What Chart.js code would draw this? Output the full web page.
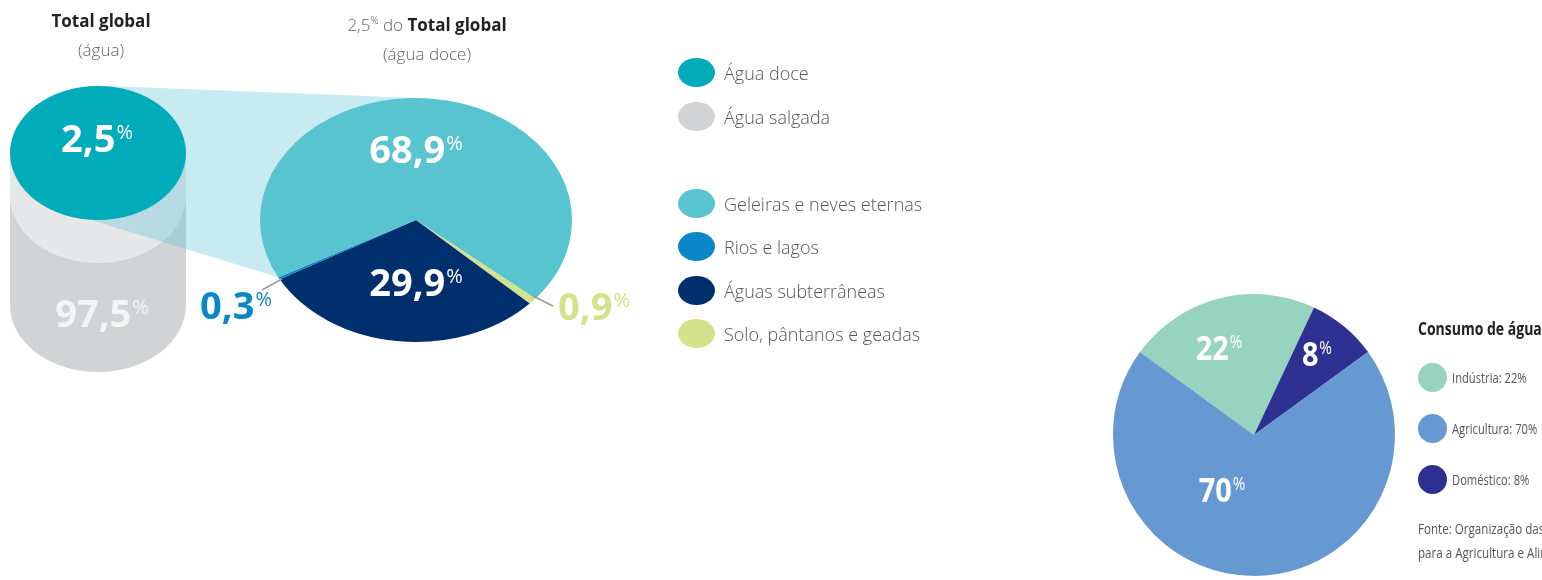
<!DOCTYPE html>
<html lang="pt">
<head>
<meta charset="utf-8">
<script src="https://cdn.jsdelivr.net/npm/chart.js@4.4.0/dist/chart.umd.min.js"></script>
<style>
  html, body { margin: 0; padding: 0; background: #fff; }
  body { width: 1542px; height: 580px; position: relative; overflow: hidden; font-family: "Open Sans", sans-serif; color: #555; }
  canvas { position: absolute; left: 0; top: 0; }
  .title { position: absolute; width: 260px; text-align: center; font-size: 17px; line-height: 29px; color: #666; font-weight: 300; }
  .title b { color: #222; font-weight: 700; }
  .title sup { font-size: 10px; }
  .legend { position: absolute; left: 678px; top: 0; }
  .legend .row { position: absolute; left: 0; display: flex; align-items: center; white-space: nowrap; font-size: 18px; font-weight: 300; color: #555; }
  .legend .sw { width: 37px; height: 29px; border-radius: 50%; margin-right: 9px; }
  .uso { position: absolute; left: 1418px; top: 0; }
  .uso .head { position: absolute; top: 316px; left: 0; white-space: nowrap; font-weight: 700; font-size: 17.5px; color: #222; transform: scaleX(0.8); transform-origin: 0 50%; }
  .uso .row { position: absolute; left: 0; display: flex; align-items: center; white-space: nowrap; }
  .uso .dot { width: 29px; height: 29px; border-radius: 50%; margin-right: 5px; }
  .uso .row span { font-size: 14px; color: #555; display: inline-block; transform: scaleX(0.8); transform-origin: 0 50%; }
  .uso .src { position: absolute; left: 0; top: 517px; white-space: nowrap; font-size: 14.5px; line-height: 24px; color: #555; transform: scaleX(0.8); transform-origin: 0 0; }
</style>
</head>
<body>
<canvas id="mainChart" width="1542" height="580"></canvas>
<canvas id="usoChart" width="1542" height="580"></canvas>

<div class="title" style="left:-29px; top:6px;"><b>Total global</b><br>(água)</div>
<div class="title" style="left:297px; top:6px;">2,5<sup>%</sup> do <b>Total global</b><br>(água doce)</div>

<div class="legend" id="legend"></div>

<div class="uso">
  <div class="head">Consumo de água</div>
  <div id="usoLegend"></div>
  <div class="src">Fonte: Organização das Nações Unidas<br>para a Agricultura e Alimentação</div>
</div>

<script>
// total global water (cylinder)
const totalLabels = ['Água doce', 'Água salgada'];
const totalValues = [2.5, 97.5];
const totalColors = ['#00acba', '#d1d3d4'];

// fresh water, in clockwise drawing order
const doceLabels = ['Solo, pântanos e geadas', 'Águas subterrâneas', 'Rios e lagos', 'Geleiras e neves eternas'];
const doceValues = [0.9, 29.9, 0.3, 68.9];
const doceColors = ['#d4e28b', '#002f6d', '#0a87c9', '#58c4cf'];
const doceLegendOrder = [3, 2, 1, 0];

// water use, clockwise drawing order
const usoLabels = ['Indústria', 'Doméstico', 'Agricultura'];
const usoValues = [22, 8, 70];
const usoColors = ['#97d4bf', '#2e3192', '#6699d1'];
const usoLegendOrder = [0, 2, 1];

const fmt = v => String(v).replace('.', ',');

// % sign drawn small and raised, like the print version
function pctText(ctx, num, x, y, size, color, squeeze) {
  squeeze = squeeze || 1;
  ctx.save();
  ctx.translate(x, y);
  ctx.scale(squeeze, 1);
  ctx.fillStyle = color;
  ctx.textAlign = 'left';
  ctx.textBaseline = 'alphabetic';
  const small = Math.round(size * 0.52);
  ctx.font = `700 ${size}px "Open Sans"`;
  const w1 = ctx.measureText(num).width;
  ctx.font = `400 ${small}px "Open Sans"`;
  const w2 = ctx.measureText('%').width;
  const x0 = -(w1 + w2 + 1) / 2;
  ctx.font = `700 ${size}px "Open Sans"`;
  ctx.fillText(num, x0, 0);
  ctx.font = `400 ${small}px "Open Sans"`;
  ctx.fillText('%', x0 + w1 + 1, -0.72 * size + 0.72 * small);
  ctx.restore();
}

const cyl = { cx: 98, top: 153, bottom: 305, rx: 88, ry: 67, inner: 43 };
const squash = 122 / 156;

function ellipse(ctx, cx, cy, rx, ry) {
  ctx.beginPath();
  ctx.ellipse(cx, cy, rx, ry, 0, 0, Math.PI * 2);
}

const scenePlugin = {
  id: 'scene',
  beforeDatasetsDraw(chart) {
    const ctx = chart.ctx;
    const arc = chart.getDatasetMeta(0).data[0];
    const cx = arc.x, cy = arc.y, R = arc.outerRadius;

    // cylinder body (salt water)
    ctx.save();
    ctx.fillStyle = totalColors[1];
    ctx.beginPath();
    ctx.moveTo(cyl.cx - cyl.rx, cyl.top);
    ctx.lineTo(cyl.cx - cyl.rx, cyl.bottom);
    ctx.ellipse(cyl.cx, cyl.bottom, cyl.rx, cyl.ry, 0, Math.PI, 0, true);
    ctx.lineTo(cyl.cx + cyl.rx, cyl.top);
    ctx.closePath();
    ctx.fill();
    // lighter inner wall
    ctx.fillStyle = '#e6e7e8';
    ctx.beginPath();
    ctx.moveTo(cyl.cx - cyl.rx, cyl.top);
    ctx.lineTo(cyl.cx - cyl.rx, cyl.top + cyl.inner);
    ctx.ellipse(cyl.cx, cyl.top + cyl.inner, cyl.rx, cyl.ry, 0, Math.PI, 0, true);
    ctx.lineTo(cyl.cx + cyl.rx, cyl.top);
    ctx.closePath();
    ctx.fill();

    // projection from the cylinder top to the fresh water pie
    const start = (chart.options.rotation - 90) * Math.PI / 180;
    const tot = doceValues.reduce((a, b) => a + b, 0);
    const endAng = start + (doceValues[0] + doceValues[1] + doceValues[2]) / tot * Math.PI * 2;
    ctx.fillStyle = 'rgba(98,196,214,0.35)';
    ctx.beginPath();
    ctx.moveTo(cyl.cx + 10, cyl.top - cyl.ry);
    ctx.lineTo(cx, cy - R * squash);
    ctx.lineTo(cx, cy);
    ctx.lineTo(cx + R * Math.cos(endAng), cy + R * squash * Math.sin(endAng));
    ctx.lineTo(cyl.cx - 4, cyl.top + cyl.ry + 1);
    ctx.closePath();
    ctx.fill();

    // top (fresh water)
    ctx.fillStyle = totalColors[0];
    ellipse(ctx, cyl.cx, cyl.top, cyl.rx, cyl.ry);
    ctx.fill();
    ctx.restore();

    // squash the pie into an ellipse
    ctx.save();
    ctx.translate(cx, cy);
    ctx.scale(1, squash);
    ctx.translate(-cx, -cy);
  },
  afterDatasetsDraw(chart) {
    const ctx = chart.ctx;
    ctx.restore();
    const arc = chart.getDatasetMeta(0).data[0];
    const cx = arc.x, cy = arc.y;

    pctText(ctx, fmt(totalValues[0]), 97, 152, 38, '#fff');
    pctText(ctx, fmt(totalValues[1]), 102, 327, 38, '#f4f4f4');

    pctText(ctx, fmt(doceValues[3]), cx, 163, 38, '#fff');
    pctText(ctx, fmt(doceValues[1]), cx, 296, 38, '#fff');

    ctx.save();
    ctx.strokeStyle = '#9a9a9a';
    ctx.lineWidth = 1.5;
    ctx.beginPath();
    ctx.moveTo(262, 290); ctx.lineTo(282, 279);
    ctx.moveTo(533, 296); ctx.lineTo(553, 306);
    ctx.stroke();
    ctx.restore();
    pctText(ctx, fmt(doceValues[2]), 236, 319, 38, '#0a87c9');
    pctText(ctx, fmt(doceValues[0]), 594, 320, 38, '#d4e28b');
  }
};

new Chart(document.getElementById('mainChart'), {
  type: 'pie',
  data: {
    labels: doceLabels,
    datasets: [{
      data: doceValues,
      backgroundColor: doceColors,
      borderWidth: 0,
      hoverOffset: 0
    }]
  },
  options: {
    responsive: false,
    animation: false,
    rotation: 130,
    layout: { padding: { left: 260, right: 970, top: 64, bottom: 204 } },
    plugins: { legend: { display: false }, tooltip: { enabled: false } }
  },
  plugins: [scenePlugin]
});

const usoLabelPlugin = {
  id: 'usoLabels',
  afterDatasetsDraw(chart) {
    const ctx = chart.ctx;
    pctText(ctx, fmt(usoValues[0]), 1219, 360, 34, '#fff', 0.85);
    pctText(ctx, fmt(usoValues[1]), 1317, 366, 34, '#fff', 0.85);
    pctText(ctx, fmt(usoValues[2]), 1222, 502, 34, '#fff', 0.85);
  }
};

new Chart(document.getElementById('usoChart'), {
  type: 'pie',
  data: {
    labels: usoLabels,
    datasets: [{
      data: usoValues,
      backgroundColor: usoColors,
      borderWidth: 0,
      hoverOffset: 0
    }]
  },
  options: {
    responsive: false,
    animation: false,
    rotation: -54,
    layout: { padding: { left: 1113, right: 147, top: 294, bottom: 4 } },
    plugins: { legend: { display: false }, tooltip: { enabled: false } }
  },
  plugins: [usoLabelPlugin]
});

// legends
const legend = document.getElementById('legend');
const legendRows = [
  { y: 73, label: totalLabels[0], color: totalColors[0] },
  { y: 117, label: totalLabels[1], color: totalColors[1] }
];
const doceRowsY = [204, 247, 291, 334];
doceLegendOrder.forEach((i, k) => legendRows.push({ y: doceRowsY[k], label: doceLabels[i], color: doceColors[i] }));
legendRows.forEach(r => {
  const row = document.createElement('div');
  row.className = 'row';
  row.style.top = (r.y - 15) + 'px';
  row.innerHTML = `<div class="sw" style="background:${r.color}"></div>${r.label}`;
  legend.appendChild(row);
});

const usoLegend = document.getElementById('usoLegend');
const usoRowsY = [378, 429, 480];
usoLegendOrder.forEach((i, k) => {
  const row = document.createElement('div');
  row.className = 'row';
  row.style.top = (usoRowsY[k] - 15) + 'px';
  row.innerHTML = `<div class="dot" style="background:${usoColors[i]}"></div><span>${usoLabels[i]}: ${usoValues[i]}%</span>`;
  usoLegend.appendChild(row);
});
</script>
</body>
</html>
